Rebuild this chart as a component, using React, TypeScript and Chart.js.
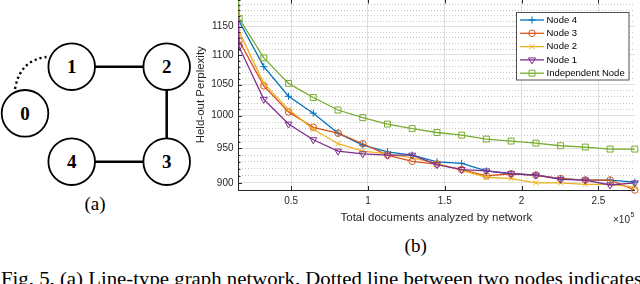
import React, { useEffect, useRef } from 'react';
import { Chart, registerables } from 'chart.js';
import { drawPoint } from 'chart.js/helpers';

Chart.register(...registerables);

// ---- data (x in units of 1e5 documents) ----
const DOCS_E5 = [0, 0.161, 0.322, 0.483, 0.644, 0.805, 0.966, 1.127, 1.288, 1.449, 1.61, 1.771, 1.932, 2.093, 2.254, 2.415, 2.576, 2.737];
const NODE4 = [4000, 1160, 1080, 1031, 1004, 973, 955, 945, 940, 930, 928, 917, 913, 911, 906, 904, 904, 901];
const NODE3 = [4000, 1125, 1048, 1006, 982, 973, 957, 940, 931, 927, 919, 910, 913, 911, 906, 904, 904, 890];
const NODE2 = [4000, 1141, 1052, 1010, 979, 957, 946, 942, 936, 928, 918, 908, 906, 900, 900, 898, 898, 894];
const NODE1 = [4000, 1114, 1026, 987, 963, 946, 942, 940, 940, 926, 919, 917, 913, 911, 905, 904, 897, 900];
const INDEP = [4000, 1165, 1095, 1052, 1029, 1009, 997, 987, 980, 974, 970, 964, 961, 958, 954, 952, 949, 949];
const SERIES_LABELS = ['Node 4', 'Node 3', 'Node 2', 'Node 1', 'Independent Node'];

const X_MIN = 0.154;
const X_MAX = 2.737;
const X_TICKS = [0.5, 1, 1.5, 2, 2.5];
const Y_MIN = 890;
const Y_MAX = 1200;
const Y_LABELED_TICKS = [900, 950, 1000, 1050, 1100, 1150];
const Y_MINOR_STEP = 10;

const FONT = "'Liberation Sans', Arial, Helvetica, sans-serif";
const AXIS = '#262626';
const MAJOR_GRID = '#dfdfdf';
const MINOR_GRID = '#c4c4c4';

const STYLES = [
  { color: 'rgb(0,114,189)', pointStyle: 'cross', radius: 3.6, rotation: 0 },
  { color: 'rgb(217,83,25)', pointStyle: 'circle', radius: 3.3, rotation: 0 },
  { color: 'rgb(237,177,32)', pointStyle: 'crossRot', radius: 3.6, rotation: 0 },
  { color: 'rgb(126,47,142)', pointStyle: 'triangle', radius: 4, rotation: 180 },
  { color: 'rgb(119,172,48)', pointStyle: 'rect', radius: 4.2, rotation: 0 },
];

const SERIES = [NODE4, NODE3, NODE2, NODE1, INDEP];

const overlayPlugin = {
  id: 'overlay',
  afterDraw(chart: any) {
    const { ctx, chartArea: ca, scales } = chart;
    const x = scales.x;
    const y = scales.y;
    ctx.save();
    // inward tick marks
    ctx.strokeStyle = AXIS;
    ctx.lineWidth = 1;
    ctx.beginPath();
    X_TICKS.forEach((v) => {
      const px = Math.round(x.getPixelForValue(v)) + 0.5;
      ctx.moveTo(px, ca.bottom);
      ctx.lineTo(px, ca.bottom - 4);
      ctx.moveTo(px, ca.top);
      ctx.lineTo(px, ca.top + 4);
    });
    y.ticks.forEach((t: any) => {
      const py = Math.round(y.getPixelForValue(t.value)) + 0.5;
      const len = Y_LABELED_TICKS.includes(t.value) ? 4 : 2.5;
      ctx.moveTo(ca.left, py);
      ctx.lineTo(ca.left + len, py);
    });
    ctx.stroke();

    // legend inside the plot
    const bx = 336.5, by = 32.5, bw = 112.5, bh = 67.5;
    ctx.fillStyle = '#ffffff';
    ctx.fillRect(bx, by, bw, bh);
    ctx.strokeStyle = 'rgba(38,38,38,0.8)';
    ctx.lineWidth = 1;
    ctx.strokeRect(bx, by, bw, bh);
    ctx.font = `9.5px ${FONT}`;
    ctx.textBaseline = 'middle';
    ctx.textAlign = 'left';
    SERIES_LABELS.forEach((label, i) => {
      const st = STYLES[i];
      const cy = 40 + i * 13.3;
      ctx.strokeStyle = st.color;
      ctx.lineWidth = 1.3;
      ctx.beginPath();
      ctx.moveTo(340, cy);
      ctx.lineTo(364, cy);
      ctx.stroke();
      ctx.fillStyle = 'rgba(0,0,0,0)';
      ctx.lineWidth = 1;
      drawPoint(ctx, { pointStyle: st.pointStyle, rotation: st.rotation, radius: st.radius, borderWidth: 1 } as any, 352, cy);
      ctx.fillStyle = '#000000';
      ctx.fillText(label, 366.5, cy);
    });

    // x exponent
    ctx.fillStyle = AXIS;
    ctx.font = `10px ${FONT}`;
    ctx.textBaseline = 'middle';
    ctx.fillText('\u00d710', 433, 240);
    const w = ctx.measureText('\u00d710').width;
    ctx.font = `7px ${FONT}`;
    ctx.fillText('5', 433 + w + 0.5, 235.5);
    ctx.restore();
  },
};

function buildYTicks() {
  const arr: { value: number }[] = [];
  for (let v = Y_MIN; v <= Y_MAX; v += Y_MINOR_STEP) arr.push({ value: v });
  return arr;
}

export default function App() {
  const ref = useRef<HTMLCanvasElement>(null);

  useEffect(() => {
    const datasets = SERIES.map((vals, i) => {
      const st = STYLES[i];
      return {
        label: SERIES_LABELS[i],
        data: DOCS_E5.map((xv, j) => ({ x: xv, y: vals[j] })),
        borderColor: st.color,
        backgroundColor: 'rgba(0,0,0,0)',
        borderWidth: 1.3,
        pointStyle: st.pointStyle,
        pointRotation: st.rotation,
        pointRadius: (c: any) => (c.dataIndex === 0 ? 0 : st.radius),
        pointBorderColor: st.color,
        pointBackgroundColor: 'rgba(0,0,0,0)',
        pointBorderWidth: 1,
        tension: 0,
        order: 4 - i,
        clip: { left: 0, top: 2, right: 6, bottom: 6 },
      };
    });

    const chart = new Chart(ref.current as HTMLCanvasElement, {
      type: 'line',
      data: { datasets } as any,
      plugins: [overlayPlugin],
      options: {
        animation: false,
        responsive: false,
        events: [],
        layout: { padding: { top: 19.5, right: 1, left: 0, bottom: 0 } },
        plugins: { legend: { display: false }, tooltip: { enabled: false } },
        scales: {
          x: {
            type: 'linear',
            min: X_MIN,
            max: X_MAX,
            afterBuildTicks: (s: any) => {
              s.ticks = X_TICKS.map((v) => ({ value: v }));
            },
            afterFit: (s: any) => {
              s.height = 50;
            },
            grid: { color: MAJOR_GRID, lineWidth: 1, drawTicks: false },
            border: { display: true, color: AXIS, width: 1 },
            ticks: {
              autoSkip: false,
              maxRotation: 0,
              padding: 5.7,
              color: AXIS,
              font: { family: FONT, size: 10 },
              callback: (v: any) => String(v),
            },
            title: {
              display: true,
              text: 'Total documents analyzed by network',
              color: AXIS,
              font: { family: FONT, size: 11.5 },
              padding: { top: 0, bottom: 14.8 },
            },
          },
          y: {
            type: 'logarithmic',
            min: Y_MIN,
            max: Y_MAX,
            bounds: 'data',
            afterBuildTicks: (s: any) => {
              s.ticks = buildYTicks();
            },
            afterFit: (s: any) => {
              s.width = 58;
            },
            grid: {
              drawTicks: false,
              lineWidth: 1,
              color: (c: any) => (c.tick && Y_LABELED_TICKS.includes(c.tick.value) ? MAJOR_GRID : MINOR_GRID),
            },
            border: {
              display: true,
              color: AXIS,
              width: 1,
              dash: (c: any) => (c.tick && !Y_LABELED_TICKS.includes(c.tick.value) ? [1, 2] : []),
            },
            ticks: {
              autoSkip: false,
              padding: 4.5,
              color: AXIS,
              font: { family: FONT, size: 10 },
              callback: (v: any) => (Y_LABELED_TICKS.includes(Number(v)) ? String(v) : ''),
            },
            title: {
              display: true,
              text: 'Held-out Perplexity',
              color: AXIS,
              font: { family: FONT, size: 11.5 },
              padding: { top: 13.6, bottom: 0 },
            },
          },
        },
      } as any,
    });
    return () => chart.destroy();
  }, []);

  const R = 23.3;
  const nodes = [
    { id: '0', cx: 25, cy: 113.3 },
    { id: '1', cx: 71.7, cy: 66.7 },
    { id: '2', cx: 166.7, cy: 66.7 },
    { id: '3', cx: 166.7, cy: 161.7 },
    { id: '4', cx: 71.7, cy: 161.7 },
  ];

  return (
    <div style={{ position: 'fixed', left: 0, top: 0, width: 640, height: 284, overflow: 'hidden', background: '#ffffff' }}>
      <svg width={640} height={284} style={{ position: 'absolute', left: 0, top: 0 }}>
        <path d="M 15 89 Q 20 60 46.5 57" fill="none" stroke="#000" strokeWidth={2.4} strokeDasharray="2.2 3" />
        <line x1={71.7 + R} y1={66.7} x2={166.7 - R} y2={66.7} stroke="#000" strokeWidth={2.5} />
        <line x1={166.7} y1={66.7 + R} x2={166.7} y2={161.7 - R} stroke="#000" strokeWidth={2.5} />
        <line x1={71.7 + R} y1={161.7} x2={166.7 - R} y2={161.7} stroke="#000" strokeWidth={2.5} />
        {nodes.map((n) => (
          <g key={n.id}>
            <circle cx={n.cx} cy={n.cy} r={R} fill="#fff" stroke="#000" strokeWidth={1.8} />
            <text x={n.cx} y={n.cy + 6.5} textAnchor="middle" fontFamily="'Liberation Serif', 'DejaVu Serif', serif" fontWeight="bold" fontSize={19} fill="#000">
              {n.id}
            </text>
          </g>
        ))}
        <text x={95} y={210} textAnchor="middle" fontFamily="'Liberation Serif', serif" fontSize={19} fill="#000">(a)</text>
        <text x={415.7} y={251.5} textAnchor="middle" fontFamily="'Liberation Serif', serif" fontSize={19} fill="#000">(b)</text>
        <text x={1} y={285} textLength={641} lengthAdjust="spacingAndGlyphs" fontFamily="'Liberation Serif', serif" fontSize={19} fill="#000">
          Fig. 5.  (a) Line-type graph network. Dotted line between two nodes indicates
        </text>
      </svg>
      <canvas ref={ref} width={460} height={260} style={{ position: 'absolute', left: 180, top: -20, width: 460, height: 260 }} />
    </div>
  );
}
